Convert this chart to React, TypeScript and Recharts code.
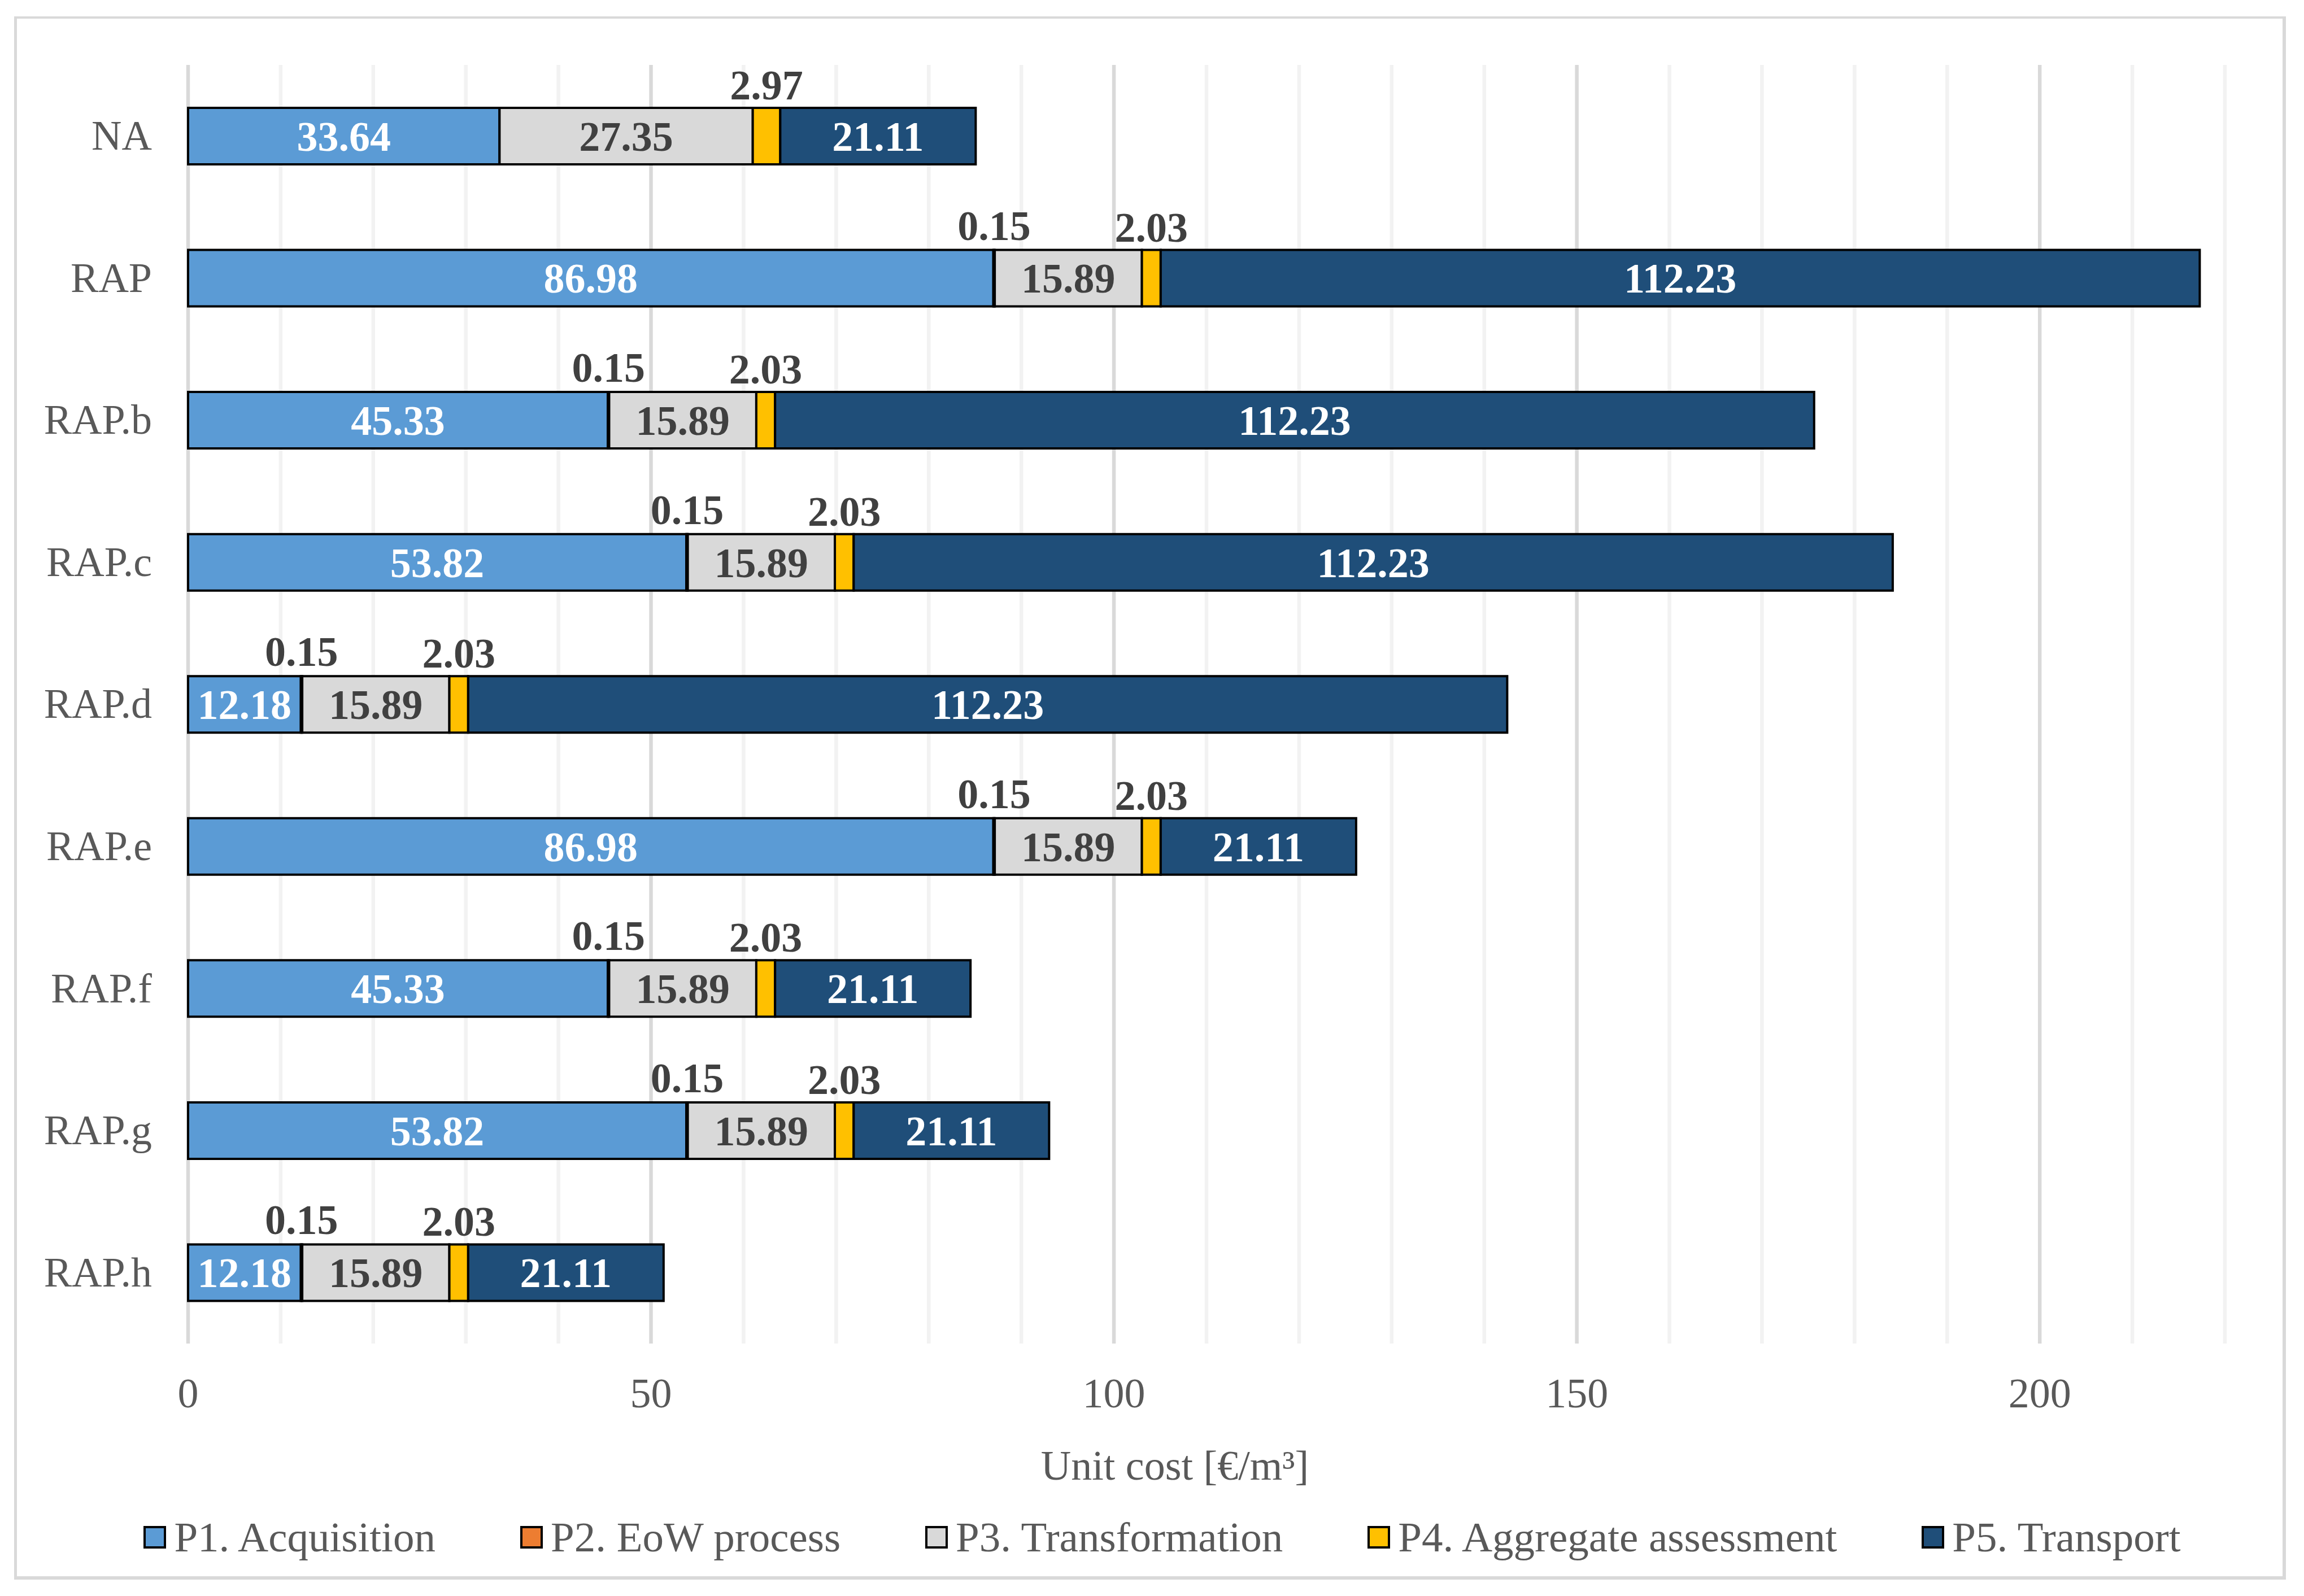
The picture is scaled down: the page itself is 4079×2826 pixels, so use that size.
import React from "react";
import {
  BarChart,
  Bar,
  XAxis,
  YAxis,
  CartesianGrid,
  Legend,
  LabelList,
  Label,
} from "recharts";

const categories = ["NA", "RAP", "RAP.b", "RAP.c", "RAP.d", "RAP.e", "RAP.f", "RAP.g", "RAP.h"];
const p1Acquisition = [33.64, 86.98, 45.33, 53.82, 12.18, 86.98, 45.33, 53.82, 12.18];
const p2EowProcess = [0, 0.15, 0.15, 0.15, 0.15, 0.15, 0.15, 0.15, 0.15];
const p3Transformation = [27.35, 15.89, 15.89, 15.89, 15.89, 15.89, 15.89, 15.89, 15.89];
const p4Assessment = [2.97, 2.03, 2.03, 2.03, 2.03, 2.03, 2.03, 2.03, 2.03];
const p5Transport = [21.11, 112.23, 112.23, 112.23, 112.23, 21.11, 21.11, 21.11, 21.11];
const xTicks = [0, 10, 20, 30, 40, 50, 60, 70, 80, 90, 100, 110, 120, 130, 140, 150, 160, 170, 180, 190, 200, 210, 220];
const xLabelTicks = [0, 50, 100, 150, 200];

const series = [
  { key: "p1", name: "P1. Acquisition", color: "#5B9BD5", label: "center", text: "#FFFFFF" },
  { key: "p2", name: "P2. EoW process", color: "#ED7D31", label: "top", offset: 18 },
  { key: "p3", name: "P3. Transformation", color: "#D9D9D9", label: "center", text: "#404040" },
  { key: "p4", name: "P4. Aggregate assessment", color: "#FFC000", label: "top", offset: 15 },
  { key: "p5", name: "P5. Transport", color: "#1F4E79", label: "center", text: "#FFFFFF" },
];

const data = categories.map((name, i) => ({
  name,
  p1: p1Acquisition[i],
  p2: p2EowProcess[i],
  p3: p3Transformation[i],
  p4: p4Assessment[i],
  p5: p5Transport[i],
}));

const FONT = '"Liberation Serif", "Times New Roman", serif';

const box = (props: any) => {
  const vb = props.viewBox || props;
  return { x: Number(vb.x), y: Number(vb.y), width: Number(vb.width), height: Number(vb.height) };
};

const CenterLabel = (color: string) => (props: any) => {
  const { x, y, width, height } = box(props);
  if (!props.value) return null;
  return (
    <text
      x={x + width / 2}
      y={y + height / 2}
      dy="0.35em"
      textAnchor="middle"
      fill={color}
      fontFamily={FONT}
      fontSize={74}
      fontWeight="bold"
    >
      {Number(props.value).toFixed(2)}
    </text>
  );
};

const TopLabel = (offset: number) => (props: any) => {
  const { x, y, width } = box(props);
  if (!props.value) return null;
  return (
    <text
      x={x + width / 2}
      y={y - offset}
      textAnchor="middle"
      fill="#404040"
      fontFamily={FONT}
      fontSize={74}
      fontWeight="bold"
    >
      {Number(props.value).toFixed(2)}
    </text>
  );
};

const XTick = (props: any) => {
  const { x, y, payload } = props;
  if (!xLabelTicks.includes(payload.value)) return null;
  return (
    <text x={x} y={y + 113} textAnchor="middle" fill="#595959" fontFamily={FONT} fontSize={74}>
      {payload.value}
    </text>
  );
};

const YTick = (props: any) => {
  const { x, y, payload } = props;
  return (
    <text x={x - 64} y={y} dy="0.33em" textAnchor="end" fill="#595959" fontFamily={FONT} fontSize={74}>
      {payload.value}
    </text>
  );
};

// major lines every 50, light ones in between
const GridLine = (props: any) => {
  const major = props.index % 5 === 0;
  return (
    <line
      key={props.key}
      x1={props.x1}
      x2={props.x2}
      y1={props.y1}
      y2={props.y2}
      stroke={major ? "#D9D9D9" : "#F2F2F2"}
      strokeWidth={6.5}
    />
  );
};

const LegendContent = () => (
  <div
    style={{
      display: "flex",
      justifyContent: "center",
      alignItems: "center",
      height: 80,
      lineHeight: "80px",
      fontFamily: FONT,
      fontSize: 75,
      color: "#595959",
      gap: 150,
      whiteSpace: "nowrap",
    }}
  >
    {series.map((s) => (
      <div key={s.key} style={{ display: "flex", alignItems: "center" }}>
        <div
          style={{
            width: 40,
            height: 40,
            boxSizing: "border-box",
            border: "4px solid #000",
            background: s.color,
            marginRight: 14,
          }}
        />
        <span>{s.name}</span>
      </div>
    ))}
  </div>
);

export default function App() {
  return (
    <div style={{ position: "relative", width: 4079, height: 2826, background: "#fff" }}>
      <style>{"body{margin:0}"}</style>
      <div
        style={{
          position: "absolute",
          left: 25,
          top: 29,
          width: 4047 - 25,
          height: 2797 - 29,
          boxSizing: "border-box",
          borderTop: "4px solid #D9D9D9",
          borderLeft: "5px solid #D9D9D9",
          borderRight: "6px solid #D9D9D9",
          borderBottom: "6px solid #D9D9D9",
        }}
      />
      <div style={{ position: "absolute", left: 0, top: 0 }}>
        <BarChart
          width={4079}
          height={2826}
          data={data}
          layout="vertical"
          margin={{ top: 115, right: 140, left: 0, bottom: 0 }}
          barSize={100}
        >
          <CartesianGrid horizontal={false} vertical={GridLine} syncWithTicks />
          <XAxis
            type="number"
            domain={[0, 220]}
            ticks={xTicks}
            interval={0}
            height={447}
            tick={XTick}
            tickLine={false}
            axisLine={false}
            tickSize={0}
            tickMargin={0}
          >
            <Label
              content={(props: any) => {
                const vb = props.viewBox;
                return (
                  <text
                    x={vb.x + vb.width / 2 - 56}
                    y={vb.y + 241}
                    textAnchor="middle"
                    fill="#595959"
                    fontFamily={FONT}
                    fontSize={74}
                  >
                    Unit cost [€/m³]
                  </text>
                );
              }}
            />
          </XAxis>
          <YAxis
            type="category"
            dataKey="name"
            width={333}
            tick={YTick}
            tickLine={false}
            axisLine={false}
            tickSize={0}
            tickMargin={0}
            interval={0}
          />
          <Legend
            verticalAlign="middle"
            align="center"
            layout="horizontal"
            content={LegendContent}
            wrapperStyle={{ position: "absolute", left: 18, top: 2682, width: 4079, height: 80 }}
          />
          {series.map((s) => (
            <Bar
              key={s.key}
              dataKey={s.key}
              name={s.name}
              stackId="cost"
              fill={s.color}
              stroke="#000000"
              strokeWidth={4}
              isAnimationActive={false}
            >
              <LabelList
                dataKey={s.key}
                content={s.label === "top" ? TopLabel(s.offset as number) : CenterLabel(s.text as string)}
              />
            </Bar>
          ))}
        </BarChart>
      </div>
    </div>
  );
}
